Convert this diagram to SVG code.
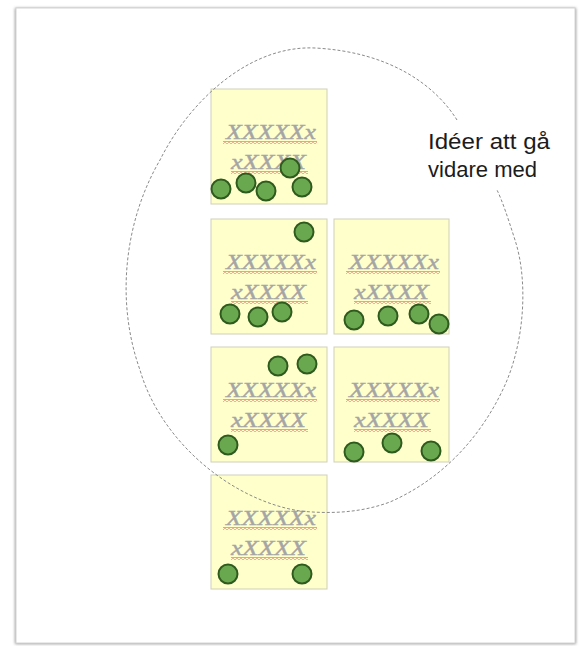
<svg xmlns="http://www.w3.org/2000/svg" width="581" height="646" viewBox="0 0 581 646">
<defs>
<filter id="sh" x="-5%" y="-5%" width="110%" height="110%">
<feGaussianBlur stdDeviation="1.6"/>
</filter>
<pattern id="wave" width="4" height="3" patternUnits="userSpaceOnUse">
<polyline points="0,0.6 2,2.4 4,0.6" fill="none" stroke="#e0524c" stroke-width="1"/>
</pattern>
</defs>
<style>
.note{fill:#ffffcc;stroke:#cfcfb8;stroke-width:1}
.dot{fill:#6aa84f;stroke:#2f5a1e;stroke-width:2}
.xx{font-family:"Liberation Serif",serif;font-style:italic;font-size:22px;fill:#a5a5a5;stroke:#a5a5a5;stroke-width:0.4}
.lbl{font-family:"Liberation Sans","Open Sans",sans-serif;font-size:22px;fill:#1c1c1c}
.bound{fill:none;stroke:#8a8a8a;stroke-width:1;stroke-dasharray:3 2}
</style>
<rect width="581" height="646" fill="#ffffff"/>
<g id="frame">
<rect x="15" y="8" width="561" height="636" fill="#9a9a9a" filter="url(#sh)"/>
<rect x="16" y="8" width="559" height="635" fill="#ffffff" stroke="#d4d4d4" stroke-width="1"/>
</g>
<g id="note1" transform="translate(211,89)">
<rect class="note" x="0" y="0" width="116" height="115"/>
<text class="xx" x="15" y="50" textLength="90" lengthAdjust="spacingAndGlyphs">XXXXXx</text>
<rect x="12" y="52" width="94" height="3" fill="url(#wave)"/>
<text class="xx" x="20" y="80" textLength="75" lengthAdjust="spacingAndGlyphs">xXXXX</text>
<rect x="20" y="82" width="77" height="3" fill="url(#wave)"/>
<circle class="dot" cx="10" cy="100" r="9.5"/>
<circle class="dot" cx="35" cy="94" r="9.5"/>
<circle class="dot" cx="55" cy="102" r="9.5"/>
<circle class="dot" cx="79" cy="79" r="9.5"/>
<circle class="dot" cx="91" cy="98" r="9.5"/>
</g>
<g id="note2" transform="translate(211,219)">
<rect class="note" x="0" y="0" width="116" height="115"/>
<text class="xx" x="15" y="50" textLength="90" lengthAdjust="spacingAndGlyphs">XXXXXx</text>
<rect x="12" y="52" width="94" height="3" fill="url(#wave)"/>
<text class="xx" x="20" y="80" textLength="75" lengthAdjust="spacingAndGlyphs">xXXXX</text>
<rect x="20" y="82" width="77" height="3" fill="url(#wave)"/>
<circle class="dot" cx="93" cy="13" r="9.5"/>
<circle class="dot" cx="19" cy="95" r="9.5"/>
<circle class="dot" cx="47" cy="98" r="9.5"/>
<circle class="dot" cx="71" cy="93" r="9.5"/>
</g>
<g id="note3" transform="translate(334,219)">
<rect class="note" x="0" y="0" width="115" height="115"/>
<text class="xx" x="15" y="50" textLength="90" lengthAdjust="spacingAndGlyphs">XXXXXx</text>
<rect x="12" y="52" width="94" height="3" fill="url(#wave)"/>
<text class="xx" x="20" y="80" textLength="75" lengthAdjust="spacingAndGlyphs">xXXXX</text>
<rect x="20" y="82" width="77" height="3" fill="url(#wave)"/>
<circle class="dot" cx="20" cy="101" r="9.5"/>
<circle class="dot" cx="54" cy="97" r="9.5"/>
<circle class="dot" cx="85" cy="95" r="9.5"/>
<circle class="dot" cx="105" cy="105" r="9.5"/>
</g>
<g id="note4" transform="translate(211,347)">
<rect class="note" x="0" y="0" width="116" height="115"/>
<text class="xx" x="15" y="50" textLength="90" lengthAdjust="spacingAndGlyphs">XXXXXx</text>
<rect x="12" y="52" width="94" height="3" fill="url(#wave)"/>
<text class="xx" x="20" y="80" textLength="75" lengthAdjust="spacingAndGlyphs">xXXXX</text>
<rect x="20" y="82" width="77" height="3" fill="url(#wave)"/>
<circle class="dot" cx="67" cy="19" r="9.5"/>
<circle class="dot" cx="96" cy="17" r="9.5"/>
<circle class="dot" cx="17" cy="98" r="9.5"/>
</g>
<g id="note5" transform="translate(334,347)">
<rect class="note" x="0" y="0" width="115" height="115"/>
<text class="xx" x="15" y="50" textLength="90" lengthAdjust="spacingAndGlyphs">XXXXXx</text>
<rect x="12" y="52" width="94" height="3" fill="url(#wave)"/>
<text class="xx" x="20" y="80" textLength="75" lengthAdjust="spacingAndGlyphs">xXXXX</text>
<rect x="20" y="82" width="77" height="3" fill="url(#wave)"/>
<circle class="dot" cx="20" cy="105" r="9.5"/>
<circle class="dot" cx="58" cy="96" r="9.5"/>
<circle class="dot" cx="97" cy="104" r="9.5"/>
</g>
<g id="note6" transform="translate(211,475)">
<rect class="note" x="0" y="0" width="116" height="114"/>
<text class="xx" x="15" y="50" textLength="90" lengthAdjust="spacingAndGlyphs">XXXXXx</text>
<rect x="12" y="52" width="94" height="3" fill="url(#wave)"/>
<text class="xx" x="20" y="80" textLength="75" lengthAdjust="spacingAndGlyphs">xXXXX</text>
<rect x="20" y="82" width="77" height="3" fill="url(#wave)"/>
<circle class="dot" cx="17" cy="99" r="9.5"/>
<circle class="dot" cx="91" cy="99" r="9.5"/>
</g>
<g id="connectors">
<path class="bound" d="M457,120 C435,85 390,52 315,48 C250,45 190,100 160,160 C125,220 115,300 140,370 C160,440 230,500 300,511 C330,514 360,513 390,502 C440,480 480,440 505,385 C525,340 528,280 515,240 C508,218 502,200 497,190"/>
</g>
<g id="label">
<text class="lbl" x="428" y="149" textLength="122" lengthAdjust="spacingAndGlyphs">Idéer att gå</text>
<text class="lbl" x="428" y="177" textLength="109" lengthAdjust="spacingAndGlyphs">vidare med</text>
</g>
</svg>
